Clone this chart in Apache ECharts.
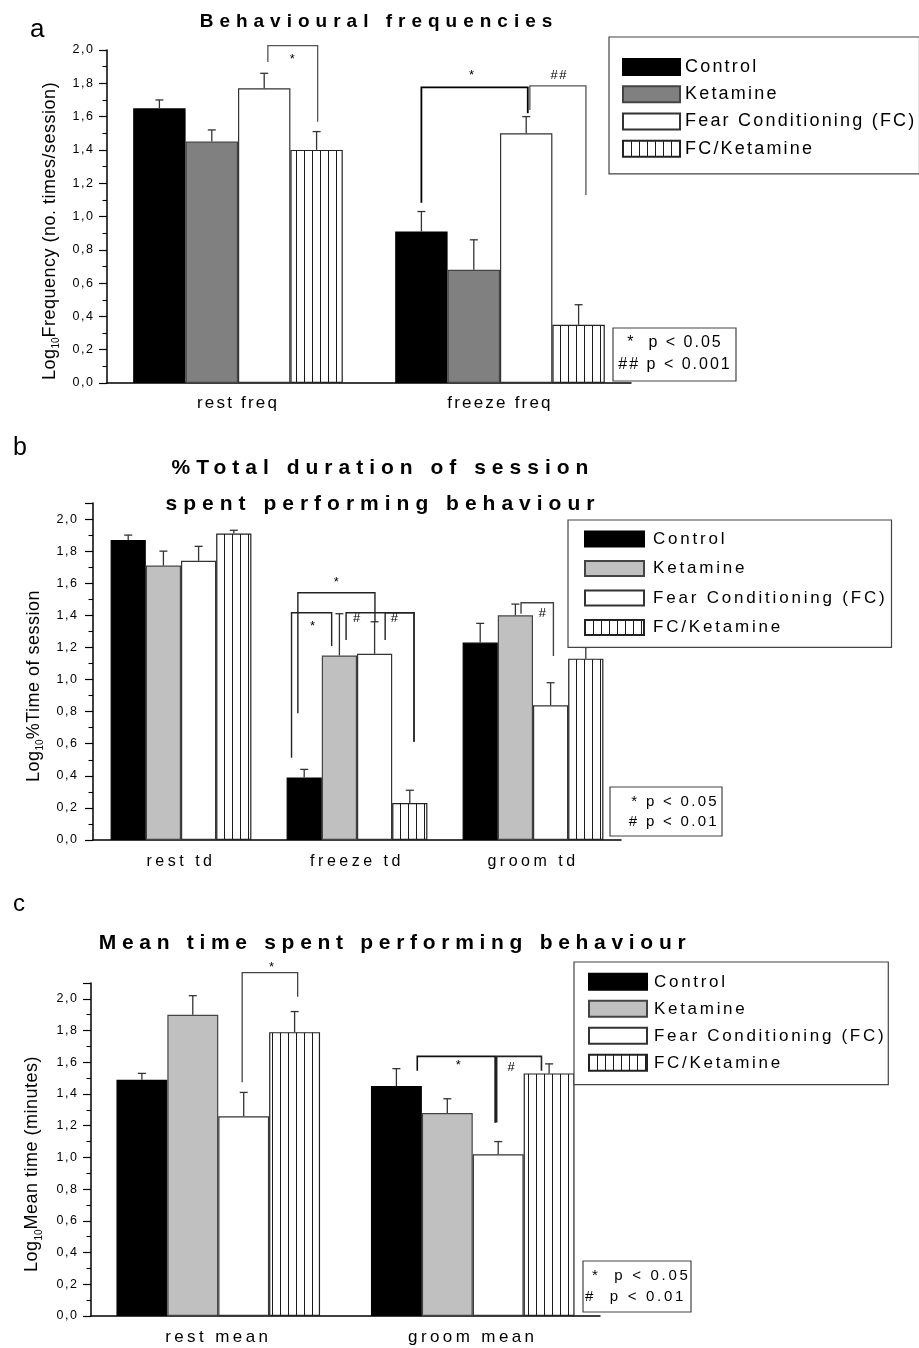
<!DOCTYPE html>
<html>
<head>
<meta charset="utf-8">
<title>Behavioural measures</title>
<script src="https://cdn.jsdelivr.net/npm/echarts@6/dist/echarts.min.js"></script>
<style>
  html, body { margin: 0; padding: 0; background: #fff; }
  #chart { width: 919px; height: 1348px; }
</style>
</head>
<body>
<div id="chart"></div>
<script>
// Letter-spaced text: a family token "trN" in a canvas font string sets
// ctx.letterSpacing to N/10 px (measurement contexts pick it up as well).
(function () {
  const proto = CanvasRenderingContext2D.prototype;
  const d = Object.getOwnPropertyDescriptor(proto, 'font');
  if (!d || !('letterSpacing' in proto)) return;
  Object.defineProperty(proto, 'font', {
    configurable: true,
    enumerable: d.enumerable,
    get: function () { return d.get.call(this); },
    set: function (v) {
      d.set.call(this, v);
      const m = /(?:^|[\s,])tr(\d+)\s*,/.exec(v);
      this.letterSpacing = m ? (m[1] / 10) + 'px' : '0px';
    }
  });
})();

const BASE = '"Liberation Sans", Arial, sans-serif';
function tr(px) { return 'tr' + Math.round(px * 10) + ', ' + BASE; }

// ---------- data ----------
const groups = ['Control', 'Ketamine', 'Fear Conditioning (FC)', 'FC/Ketamine'];
const yTickLabels = ['0,0', '0,2', '0,4', '0,6', '0,8', '1,0', '1,2', '1,4', '1,6', '1,8', '2,0'];

// a: behavioural frequencies (log10 no. times/session)
const catsA = ['rest freq', 'freeze freq'];
const controlA = [1.65, 0.91];
const ketamineA = [1.45, 0.68];
const fcA = [1.77, 1.50];
const fcKetA = [1.40, 0.35];
// upper ends of the error bars
const controlErrA = [1.70, 1.03];
const ketamineErrA = [1.52, 0.86];
const fcErrA = [1.86, 1.60];
const fcKetErrA = [1.51, 0.47];

// b: % total session duration (log10)
const catsB = ['rest td', 'freeze td', 'groom td'];
const controlB = [1.87, 0.39, 1.23];
const ketamineB = [1.71, 1.15, 1.40];
const fcB = [1.74, 1.16, 0.84];
const fcKetB = [1.91, 0.23, 1.13];
const controlErrB = [1.90, 0.44, 1.35];
const ketamineErrB = [1.80, 1.41, 1.47];
const fcErrB = [1.83, 1.36, 0.98];
const fcKetErrB = [1.93, 0.31, 1.20];

// c: mean time per bout (log10 minutes)
const catsC = ['rest mean', 'groom mean'];
const controlC = [1.49, 1.45];
const ketamineC = [1.90, 1.28];
const fcC = [1.26, 1.02];
const fcKetC = [1.79, 1.53];
const controlErrC = [1.53, 1.56];
const ketamineErrC = [2.02, 1.37];
const fcErrC = [1.41, 1.10];
const fcKetErrC = [1.92, 1.59];

// significance brackets:
// [category, left bar, right bar, top, left arm end, right arm end, mark bar pos, mark y]
// bar positions count bars within a category (0 = Control ... 3 = FC/Ketamine)
const bracketsA = [
  [0, 2.07, 3.02, 2.026, 1.928, 1.569, 2.55, 1.960],
  [1, 0.00, 2.03, 1.776, 1.083, 1.620, 0.97, 1.865],
  [1, 2.07, 3.14, 1.784, 1.640, 1.129, 2.63, 1.850]
];
const marksA = ['*', '*', '##'];
const bracketsB = [
  [1, -0.36, 0.78, 1.416, 0.512, 1.209, 0.26, 1.352],
  [1, -0.18, 2.01, 1.541, 0.790, 1.360, 0.93, 1.626],
  [1, 1.19, 3.12, 1.416, 1.246, 0.612, 1.51, 1.383],
  [1, 2.30, 3.12, 1.416, 1.246, 0.612, 2.58, 1.383],
  [2, 1.16, 2.08, 1.478, 1.410, 1.146, 1.79, 1.414]
];
const marksB = ['*', '*', '#', '#', '#'];
const bracketsC = [
  [0, 1.97, 3.06, 2.165, 1.474, 2.014, 2.56, 2.217],
  [1, 0.41, 1.94, 1.637, 1.547, 1.219, 1.23, 1.598],
  [1, 1.97, 2.85, 1.637, 1.220, 1.547, 2.27, 1.566]
];
const marksC = ['*', '*', '#'];

// ---------- styling ----------
const GAP = 0.2;          // barCategoryGap as a fraction
// bracket line colour and width, one entry per bracket
const inkA = [['#555', 1.3], ['#000', 1.8], ['#555', 1.3]];
const inkB = [['#222', 1.4], ['#222', 1.4], ['#222', 1.4], ['#222', 1.4], ['#444', 1.4]];
const inkC = [['#444', 1.3], ['#111', 1.6], ['#222', 1.6]];

function stripeCanvas() {
  const c = document.createElement('canvas');
  c.width = 8; c.height = 8;
  const g = c.getContext('2d');
  g.fillStyle = '#fff'; g.fillRect(0, 0, 8, 8);
  g.fillStyle = '#1a1a1a'; g.fillRect(0, 0, 1, 8);
  return c;
}
const stripes = { image: stripeCanvas(), repeat: 'repeat' };

function fills(ketColor) {
  return [
    { color: '#000', borderColor: '#000' },
    { color: ketColor, borderColor: '#444' },
    { color: '#fff', borderColor: '#333' },
    { color: stripes, borderColor: '#222' }
  ];
}

function barWidthOf(api) {
  return api.size([1, 0])[0] * (1 - GAP) / 4;
}

function errItem(params, api) {
  const cat = api.value(0);
  const bw = barWidthOf(api);
  const x = api.coord([cat, 0])[0] + (api.value(1) - 1.5) * bw;
  const y0 = api.coord([cat, api.value(2)])[1];
  const y1 = api.coord([cat, api.value(3)])[1];
  const st = { stroke: '#333', lineWidth: 1.3 };
  return {
    type: 'group',
    children: [
      { type: 'line', shape: { x1: x, y1: y0, x2: x, y2: y1 }, style: st },
      { type: 'line', shape: { x1: x - 4, y1: y1, x2: x + 4, y2: y1 }, style: st }
    ]
  };
}

function bracketItem(marks, ink, fontSize) {
  return function (params, api) {
    const cat = api.value(0);
    const bw = barWidthOf(api);
    const c0 = api.coord([cat, 0])[0];
    const xAt = p => c0 + (p - 1.5) * bw;
    const yAt = v => api.coord([cat, v])[1];
    const xl = xAt(api.value(1)), xr = xAt(api.value(2));
    const yt = yAt(api.value(3));
    const mark = marks[params.dataIndex];
    const pen = ink[params.dataIndex];
    // an asterisk sits high in its em box, so its anchor is dropped a little
    const drop = mark === '*' ? 0.23 * fontSize : 0;
    return {
      type: 'group',
      children: [
        {
          type: 'polyline',
          shape: { points: [[xl, yAt(api.value(4))], [xl, yt], [xr, yt], [xr, yAt(api.value(5))]] },
          style: { stroke: pen[0], lineWidth: pen[1], fill: null }
        },
        {
          type: 'text',
          x: xAt(api.value(6)),
          y: yAt(api.value(7)) + drop,
          style: {
            text: mark, fill: '#000', align: 'center', verticalAlign: 'middle',
            font: fontSize + 'px ' + tr(1.5)
          }
        }
      ]
    };
  };
}

function errData(vals, tops) {
  const out = [];
  vals.forEach((arr, s) => arr.forEach((v, c) => out.push([c, s, v, tops[s][c]])));
  return out;
}

function panelSeries(g, vals, tops, brackets, marks, ink, ketColor) {
  const f = fills(ketColor);
  const list = vals.map((arr, s) => ({
    type: 'bar', name: groups[s], data: arr,
    xAxisIndex: g * 2, yAxisIndex: g,
    barGap: '0%', barCategoryGap: (GAP * 100) + '%',
    itemStyle: { color: f[s].color, borderColor: f[s].borderColor, borderWidth: 1.2 },
    emphasis: { disabled: true }, silent: true
  }));
  list.push({
    type: 'custom', xAxisIndex: g * 2, yAxisIndex: g, clip: false, silent: true,
    renderItem: errItem, encode: { x: 0, y: 3 }, data: errData(vals, tops), z: 3
  });
  list.push({
    type: 'custom', xAxisIndex: g * 2, yAxisIndex: g, clip: false, silent: true,
    renderItem: bracketItem(marks, ink, 13), encode: { x: 0, y: 3 }, data: brackets, z: 4
  });
  return list;
}

function xAxes(g, cats, font) {
  const tickStyle = { color: '#000', width: 1.2 };
  return [
    {
      type: 'category', gridIndex: g, data: cats, position: 'bottom',
      axisLine: { lineStyle: { color: '#000', width: 1.5 } },
      axisTick: { length: 4, lineStyle: tickStyle },
      axisLabel: { show: false }
    },
    {
      type: 'category', gridIndex: g, data: cats, position: 'bottom', offset: 0,
      axisLine: { show: false },
      axisTick: { alignWithLabel: true, length: 7, lineStyle: tickStyle },
      axisLabel: {
        margin: font.margin, color: '#000', fontSize: font.size,
        lineHeight: font.size, fontFamily: tr(font.spacing)
      }
    }
  ];
}

function yAxis(g, max, nameText, nameGap, labelMargin) {
  return {
    type: 'value', gridIndex: g, min: 0, max: max, interval: 0.2,
    axisLine: { show: true, lineStyle: { color: '#000', width: 1.5 } },
    axisTick: { show: true, length: 8, lineStyle: { color: '#000', width: 1.2 } },
    minorTick: { show: true, splitNumber: 2, length: 4.5, lineStyle: { color: '#000', width: 1.1 } },
    splitLine: { show: false },
    axisLabel: {
      margin: labelMargin, color: '#000', fontSize: 12.5, fontFamily: tr(1.5),
      formatter: function (v) {
        const k = v / 0.2;
        return Math.abs(k - Math.round(k)) > 0.01 ? '' : (yTickLabels[Math.round(k)] || '');
      }
    },
    name: '{m|Log}{s|10}{m|' + nameText + '}',
    nameLocation: 'middle', nameRotate: 90, nameGap: nameGap,
    nameTextStyle: {
      padding: [0, 29, 0, 0],
      rich: {
        m: { fontSize: 18, lineHeight: 18, verticalAlign: 'top', color: '#000', fontFamily: tr(0.5) },
        s: { fontSize: 10, lineHeight: 10, verticalAlign: 'top', padding: [11, 0, 0, 0], color: '#000', fontFamily: BASE }
      }
    }
  };
}

function legend(box, ketColor) {
  return {
    orient: 'vertical', left: box.left, top: box.top, padding: box.padding,
    itemWidth: box.iw, itemHeight: box.ih, itemGap: box.gap,
    borderColor: '#444', borderWidth: 1.2, backgroundColor: '#fff',
    selectedMode: false, icon: 'rect',
    textStyle: {
      color: '#000', fontSize: box.fs, lineHeight: box.ih,
      fontFamily: tr(box.spacing), padding: [0, 0, 0, box.textPad]
    },
    data: [
      { name: groups[0] },
      { name: groups[1], itemStyle: { color: ketColor } },
      { name: groups[2] },
      { name: groups[3], itemStyle: { color: stripes } }
    ]
  };
}

// boxed p-value key: one text element per line
function noteBox(x, y, w, h, lines, fs, spacing) {
  const els = [
    { type: 'rect', shape: { x: x, y: y, width: w, height: h },
      style: { fill: '#fff', stroke: '#444', lineWidth: 1.2 }, z: 5 }
  ];
  lines.forEach(l => els.push({
    type: 'text', x: l.x, y: l.y, z: 6,
    style: { text: l.text, fill: '#000', align: l.align, verticalAlign: 'middle',
             font: fs + 'px ' + tr(spacing) }
  }));
  return els;
}

const chart = echarts.init(document.getElementById('chart'), null, { renderer: 'canvas' });

const option = {
  animation: false,
  backgroundColor: '#fff',
  title: [
    { text: 'Behavioural frequencies', left: 379, top: 12.5, padding: 0,
      textAlign: 'center', textVerticalAlign: 'top',
      textStyle: { fontSize: 19, fontWeight: 'bold', lineHeight: 19, color: '#000', fontFamily: tr(6) } },
    { text: '%Total duration of session\nspent performing behaviour', left: 383, top: 449.8, padding: 0,
      textAlign: 'center', textVerticalAlign: 'top',
      textStyle: { fontSize: 21, fontWeight: 'bold', lineHeight: 36, color: '#000', fontFamily: tr(6) } },
    { text: 'Mean time spent performing behaviour', left: 395, top: 932.3, padding: 0,
      textAlign: 'center', textVerticalAlign: 'top',
      textStyle: { fontSize: 21, fontWeight: 'bold', lineHeight: 21, color: '#000', fontFamily: tr(5.7) } }
  ],
  legend: [
    legend({ left: 609, top: 37, padding: [20, 3, 15, 13], iw: 57, ih: 16, gap: 7, fs: 18, spacing: 2.2, textPad: 0 }, '#808080'),
    legend({ left: 568, top: 520, padding: [9, 4, 10, 16], iw: 59, ih: 15, gap: 9.7, fs: 17, spacing: 2.8, textPad: 4 }, '#c0c0c0'),
    legend({ left: 574, top: 962, padding: [10, 2, 12, 14], iw: 58, ih: 16, gap: 7.3, fs: 17, spacing: 2.7, textPad: 2 }, '#c0c0c0')
  ],
  grid: [
    { left: 107, top: 50, width: 524, height: 333 },
    { left: 93, top: 503, width: 528, height: 337 },
    { left: 91, top: 983, width: 509, height: 334.3 }
  ],
  xAxis: [].concat(
    xAxes(0, catsA, { size: 17, spacing: 2.2, margin: 11.6 }),
    xAxes(1, catsB, { size: 16, spacing: 3.5, margin: 13.2 }),
    xAxes(2, catsC, { size: 17, spacing: 3.4, margin: 13.3 })
  ),
  yAxis: [
    yAxis(0, 2.0, 'Frequency (no. times/session)', 46, 12.5),
    yAxis(1, 2.1, '%Time of session', 50, 14.5),
    yAxis(2, 2.1, 'Mean time (minutes)', 50, 12.5)
  ],
  series: [].concat(
    panelSeries(0, [controlA, ketamineA, fcA, fcKetA], [controlErrA, ketamineErrA, fcErrA, fcKetErrA], bracketsA, marksA, inkA, '#808080'),
    panelSeries(1, [controlB, ketamineB, fcB, fcKetB], [controlErrB, ketamineErrB, fcErrB, fcKetErrB], bracketsB, marksB, inkB, '#c0c0c0'),
    panelSeries(2, [controlC, ketamineC, fcC, fcKetC], [controlErrC, ketamineErrC, fcErrC, fcKetErrC], bracketsC, marksC, inkC, '#c0c0c0')
  ),
  graphic: [].concat(
    [
      { type: 'text', x: 30, y: 30, style: { text: 'a', fill: '#000', verticalAlign: 'middle', font: '26px ' + BASE } },
      { type: 'text', x: 13, y: 448, style: { text: 'b', fill: '#000', verticalAlign: 'middle', font: '25px ' + BASE } },
      { type: 'text', x: 13, y: 904, style: { text: 'c', fill: '#000', verticalAlign: 'middle', font: '24px ' + BASE } }
    ],
    noteBox(613, 328, 123, 53, [
      { text: '*  p < 0.05', x: 675, y: 343, align: 'center' },
      { text: '## p < 0.001', x: 675, y: 365, align: 'center' }
    ], 16, 2),
    noteBox(610, 787, 112, 49, [
      { text: '* p < 0.05', x: 719, y: 802, align: 'right' },
      { text: '# p < 0.01', x: 719, y: 822, align: 'right' }
    ], 15, 2.3),
    noteBox(583, 1261, 108, 51, [
      { text: '*  p < 0.05', x: 592, y: 1276, align: 'left' },
      { text: '#  p < 0.01', x: 585, y: 1297, align: 'left' }
    ], 15, 2.7)
  )
};

chart.setOption(option);
</script>
</body>
</html>
